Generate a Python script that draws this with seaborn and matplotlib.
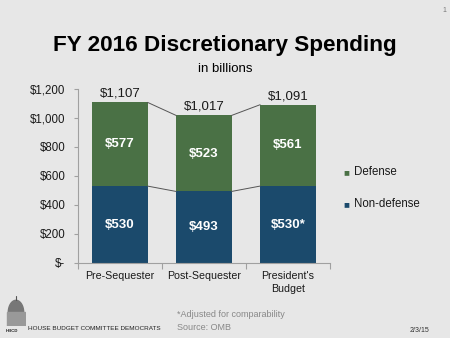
import matplotlib
matplotlib.use("Agg")
import matplotlib.pyplot as plt
import numpy as np
import pandas as pd
import seaborn as sns
from matplotlib.ticker import FixedLocator, FuncFormatter

# Spending figures, billions of dollars
categories = ["Pre-Sequester", "Post-Sequester", "President's\nBudget"]
nondefense = [530, 493, 530]
defense = [577, 523, 561]
totals = [1107, 1017, 1091]
nondefense_labels = ["$530", "$493", "$530*"]
yticks = [0, 200, 400, 600, 800, 1000, 1200]

GREEN = "#4a7145"
BLUE = "#1b4a6c"
BG = "#e7e7e7"
TXT = "#1a1a1a"
AXIS = "#a0a0a0"

sns.set_theme(style="white")
plt.rcParams["font.family"] = ["Liberation Sans", "DejaVu Sans"]
plt.rcParams["text.color"] = TXT

df = pd.DataFrame({"category": categories, "nondefense": nondefense,
                   "defense": defense, "total": totals})

fig = plt.figure(figsize=(4.5, 3.38), dpi=100, facecolor=BG)
ax = fig.add_axes([0.173, 0.222, 0.56, 0.515])
ax.set_facecolor(BG)

# stacked bars: full total in green, non-defense overlaid in blue
sns.barplot(data=df, x="category", y="total", color=GREEN, width=0.66,
            saturation=1, linewidth=0, ax=ax)
sns.barplot(data=df, x="category", y="nondefense", color=BLUE, width=0.66,
            saturation=1, linewidth=0, ax=ax)

ax.set_xlim(-0.5, 2.5)
ax.set_ylim(0, 1200)
ax.set_xlabel("")
ax.set_ylabel("")

# connector lines between the bars
hw = 0.33
for i in range(len(categories) - 1):
    ax.plot([i + hw, i + 1 - hw], [totals[i], totals[i + 1]],
            color="#555555", lw=0.7, zorder=3)
    ax.plot([i + hw, i + 1 - hw], [nondefense[i], nondefense[i + 1]],
            color="#555555", lw=0.7, zorder=3)

# value labels
for i in range(len(categories)):
    ax.text(i, nondefense[i] / 2, nondefense_labels[i], ha="center",
            va="center", color="white", fontsize=9.5, fontweight="bold")
    ax.text(i, nondefense[i] + defense[i] / 2, f"${defense[i]}", ha="center",
            va="center", color="white", fontsize=9.5, fontweight="bold")
    ax.text(i, totals[i] + 18, f"${totals[i]:,}", ha="center", va="bottom",
            color=TXT, fontsize=9.5)

ax.yaxis.set_major_locator(FixedLocator(yticks))
ax.yaxis.set_major_formatter(FuncFormatter(
    lambda v, p: "$-" if v == 0 else f"${int(v):,}"))
ax.tick_params(axis="y", labelsize=8.3, length=3, width=0.8, color=AXIS,
               labelcolor=TXT, direction="out", left=True, pad=6)
ax.tick_params(axis="x", labelsize=7.7, length=0, pad=6, labelcolor=TXT)
ax.set_xticks(range(3))
ax.set_xticklabels(categories, linespacing=1.3)
ax.set_xticks([-0.5, 0.5, 1.5, 2.5], minor=True)
ax.tick_params(axis="x", which="minor", length=4, width=0.8, color=AXIS,
               direction="out", bottom=True)

for s in ["top", "right"]:
    ax.spines[s].set_visible(False)
for s in ["left", "bottom"]:
    ax.spines[s].set_color(AXIS)
    ax.spines[s].set_linewidth(0.8)

# legend
fig.text(0.762, 0.491, "\u25A0", color=GREEN, fontsize=7, va="center",
         ha="left")
fig.text(0.787, 0.491, "Defense", fontsize=8.3, va="center", ha="left")
fig.text(0.762, 0.395, "\u25A0", color=BLUE, fontsize=7, va="center",
         ha="left")
fig.text(0.787, 0.395, "Non-defense", fontsize=8.3, va="center", ha="left")

# titles
fig.text(0.5, 0.866, "FY 2016 Discretionary Spending", ha="center",
         va="center", fontsize=16.2, fontweight="bold", color="black")
fig.text(0.5, 0.795, "in billions", ha="center", va="center", fontsize=9.5,
         color="black")

# footer
fig.text(0.393, 0.071, "*Adjusted for comparability", fontsize=6.5,
         color="#888888", va="center")
fig.text(0.393, 0.030, "Source: OMB", fontsize=6.5, color="#888888",
         va="center")
fig.text(0.91, 0.023, "2/3/15", fontsize=5, color="#333333", va="center")
fig.text(0.983, 0.968, "1", fontsize=5, color="#777777", va="center")
fig.text(0.063, 0.027, "HOUSE BUDGET COMMITTEE DEMOCRATS", fontsize=4.6,
         color="#222222", va="center")
fig.text(0.012, 0.022, "HBCD", fontsize=3.2, color="#222222", va="center",
         fontweight="bold")
# capitol dome mark
dome = fig.add_axes([0.013, 0.035, 0.045, 0.09])
dome.set_xlim(0, 1)
dome.set_ylim(0, 1)
dome.axis("off")
t = np.linspace(0, np.pi, 40)
dome.fill(0.5 + 0.38 * np.cos(t), 0.45 + 0.4 * np.sin(t), color="#777777")
dome.add_patch(plt.Rectangle((0.05, 0.0), 0.9, 0.45, color="#999999"))
dome.plot([0.5, 0.5], [0.85, 1.0], color="#555555", lw=0.8)

fig.savefig("out.png", dpi=100, facecolor=BG)
